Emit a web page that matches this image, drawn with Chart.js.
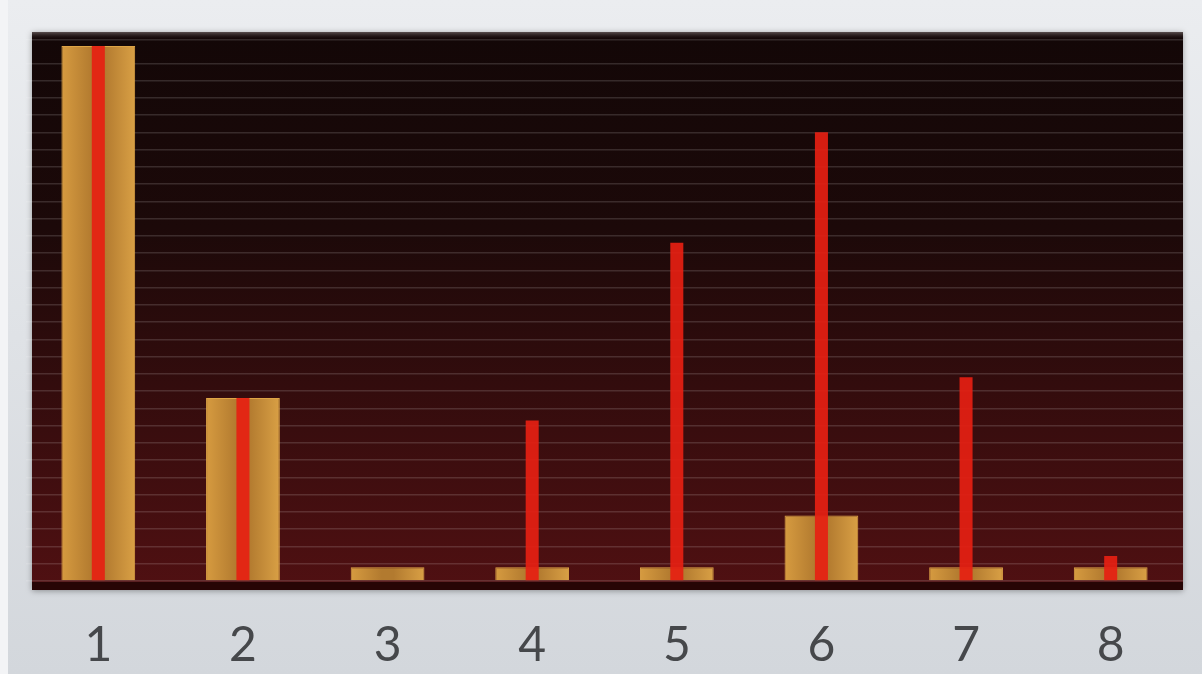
<!DOCTYPE html>
<html>
<head>
<meta charset="utf-8">
<script src="https://cdn.jsdelivr.net/npm/chart.js@4.4.0/dist/chart.umd.min.js"></script>
<style>
    html, body { margin: 0; padding: 0; background: #f3f4f6; }
    #wrap { width: 1202px; height: 674px; position: relative; }
</style>
</head>
<body>
<div id="wrap"><canvas id="barChart"></canvas></div>
<script>
// Datos
const categories = ['1', '2', '3', '4', '5', '6', '7', '8'];
const goldValues = [31.0, 10.6, 0.8, 0.8, 0.8, 3.8, 0.8, 0.8];
const redValues = [31.0, 10.6, 0, 9.3, 19.6, 26.0, 11.8, 1.45];

// Colores
const colors = {
    gold: '#c68d37',
    red: 'rgba(230, 32, 18, 0.92)',
    label: '#46484b',
    grid: 'rgba(255, 255, 255, 0.14)'
};

const GOLD_PCT = 0.51;

// Fondo de la página y caja oscura del área del gráfico
const backdrop = {
    id: 'backdrop',
    beforeDraw(chart) {
        const ctx = chart.ctx;
        const area = chart.chartArea;
        const w = chart.width, h = chart.height;

        ctx.save();
        const page = ctx.createLinearGradient(0, 0, 0, h);
        page.addColorStop(0, '#ebedf0');
        page.addColorStop(1, '#d3d7dc');
        ctx.fillStyle = page;
        ctx.fillRect(8, 0, w - 8, h);

        const left = area.left + 6, top = area.top - 8;
        const right = area.right, bottom = area.bottom + 9;

        ctx.shadowColor = 'rgba(0, 0, 0, 0.35)';
        ctx.shadowBlur = 6;
        ctx.shadowOffsetY = 1;
        const bg = ctx.createLinearGradient(0, top, 0, bottom);
        bg.addColorStop(0, '#130707');
        bg.addColorStop(0.35, '#1c0909');
        bg.addColorStop(1, '#501012');
        ctx.fillStyle = bg;
        ctx.fillRect(left, top, right - left, bottom - top);
        ctx.shadowColor = 'transparent';

        // bisel superior
        const bevel = ctx.createLinearGradient(0, top, 0, top + 8);
        bevel.addColorStop(0, 'rgba(120, 110, 110, 0.7)');
        bevel.addColorStop(1, 'rgba(20, 6, 6, 0)');
        ctx.fillStyle = bevel;
        ctx.fillRect(left, top, right - left, 8);

        // borde inferior oscuro
        ctx.fillStyle = 'rgba(32, 3, 3, 0.85)';
        ctx.fillRect(left, area.bottom + 1, right - left, bottom - area.bottom - 1);
        ctx.restore();
    }
};

// Gradiente horizontal para cada barra dorada
function goldGradient(context) {
    const chart = context.chart;
    const xScale = chart.scales.x;
    if (!chart.chartArea || !xScale || context.dataIndex === undefined) return colors.gold;
    const cx = xScale.getPixelForValue(context.dataIndex);
    const half = (xScale.width / categories.length) * GOLD_PCT / 2;
    const g = chart.ctx.createLinearGradient(cx - half, 0, cx + half, 0);
    g.addColorStop(0, '#d69b40');
    g.addColorStop(0.42, '#b27a2f');
    g.addColorStop(0.58, '#b27a2f');
    g.addColorStop(1, '#d9a045');
    return g;
}

new Chart(document.getElementById('barChart'), {
    type: 'bar',
    data: {
        labels: categories,
        datasets: [{
            label: 'Oro',
            data: goldValues,
            backgroundColor: goldGradient,
            borderColor: '#dea446',
            borderWidth: 1,
            grouped: false,
            barPercentage: GOLD_PCT,
            categoryPercentage: 1,
            order: 2
        }, {
            label: 'Rojo',
            data: redValues,
            backgroundColor: colors.red,
            borderWidth: 0,
            grouped: false,
            barPercentage: 0.09,
            categoryPercentage: 1,
            order: 1
        }]
    },
    options: {
        responsive: true,
        maintainAspectRatio: false,
        animation: false,
        layout: { padding: { left: 26, right: 19, top: 40, bottom: 0 } },
        plugins: {
            legend: { display: false },
            tooltip: { enabled: false }
        },
        scales: {
            x: {
                grid: { display: false, drawTicks: false },
                border: { display: false },
                afterFit: function(scale) { scale.height = 93; },
                ticks: {
                    color: colors.label,
                    padding: 36,
                    font: { family: 'Lato', size: 48, weight: 400 }
                }
            },
            y: {
                min: 0,
                max: 31.35,
                display: true,
                grid: { color: colors.grid, lineWidth: 1.5, drawTicks: false },
                border: { display: false },
                ticks: { stepSize: 1, display: false }
            }
        }
    },
    plugins: [backdrop]
});
</script>
</body>
</html>
